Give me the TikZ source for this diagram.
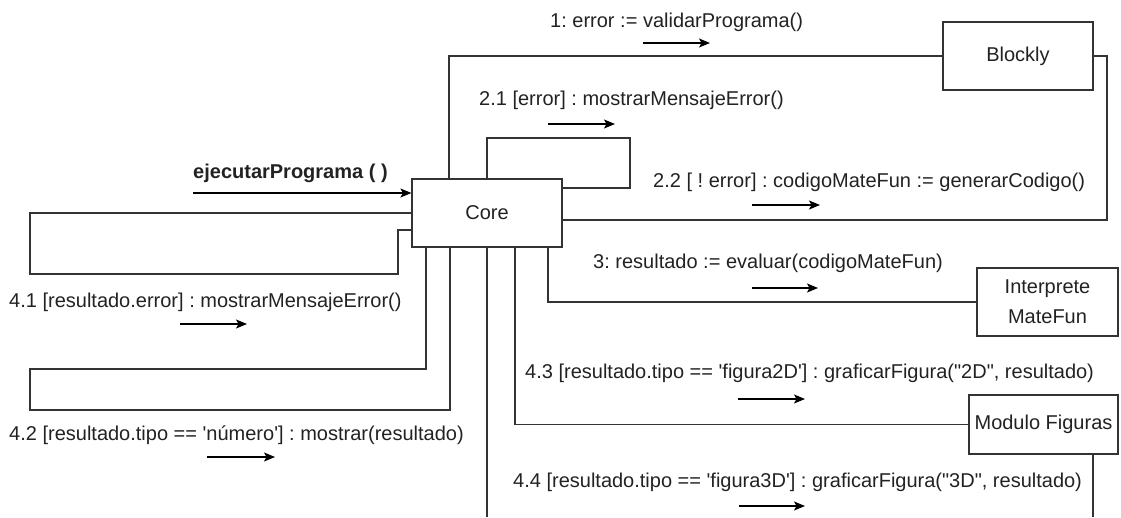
\documentclass[tikz,border=0pt]{standalone}
\usepackage{fontspec}
\setmainfont{Liberation Sans}[Ligatures=TeXOff]
\usetikzlibrary{arrows.meta,calc}
\definecolor{txt}{HTML}{222222}
\definecolor{linegray}{HTML}{333333}
\frenchspacing
\begin{document}
\begin{tikzpicture}[x=1pt,y=-1pt,
  obj/.style={draw=linegray,line width=1.2pt,fill=white,inner sep=0pt,
    font=\fontsize{20}{30}\selectfont,text=txt,align=center},
  wire/.style={draw=linegray,line width=1.2pt},
  msg/.style={font=\fontsize{20}{24}\selectfont\frenchspacing,text=txt,inner sep=0pt,anchor=west},
  dir/.style={draw=black,line width=1.2pt,-{Stealth[length=11pt,width=9pt,inset=2.5pt]}}
]
\useasboundingbox (0,0) rectangle (1121,517);

% objects
\node[obj,minimum width=150,minimum height=68] (core) at (487,213) {Core};
\node[obj,minimum width=150,minimum height=68] (blockly) at (1018,56) {Blockly};
\node[obj,minimum width=141,minimum height=68] (interp) at (1047.5,302) {Interprete\\MateFun};
\node[obj,minimum width=149,minimum height=59] (modulo) at (1043.5,424.5) {Modulo Figuras};

% links
\draw[wire] (449,0 |- core.north) -- (449,56) -- (blockly.west);
\draw[wire] (487,0 |- core.north) -- (487,138) -- (630,138) -- (630,188) -- (core.east |- 0,188);
\draw[wire] (core.east |- 0,220) -- (1107,220) -- (1107,56) -- (blockly.east);
\draw[wire] (core.west) -- (30,213) -- (30,274) -- (398,274) -- (398,230) -- (core.west |- 0,230);
\draw[wire] (426,0 |- core.south) -- (426,369) -- (30,369) -- (30,410) -- (450,410) -- (450,0 |- core.south);
\draw[wire] (548,0 |- core.south) -- (548,302) -- (interp.west);
\draw[wire] (515,0 |- core.south) -- (515,424.5) -- (modulo.west);
\draw[wire] (487,0 |- core.south) -- (487,517);
\draw[wire] (1093,0 |- modulo.south) -- (1093,517);

% entry message
\node[msg,font=\fontsize{20}{24}\selectfont\bfseries] (m0) at (193,173) {ejecutarPrograma ( )};
\coordinate (a0) at (193,193);
\draw[dir] (a0) -- (core.west |- a0);

% messages
\node[msg] (m1) at (550,22) {1: error := validarPrograma()};
\coordinate (a1s) at (643,43); \coordinate (a1e) at (710,43);
\draw[dir] (a1s) -- (a1e);

\node[msg] (m21) at (479,100) {2.1 [error] : mostrarMensajeError()};
\coordinate (a21s) at (548,124); \coordinate (a21e) at (615,124);
\draw[dir] (a21s) -- (a21e);

\node[msg] (m22) at (653,182) {2.2 [ ! error] : codigoMateFun := generarCodigo()};
\coordinate (a22s) at (752,205); \coordinate (a22e) at (820,205);
\draw[dir] (a22s) -- (a22e);

\node[msg] (m3) at (593,263) {3: resultado := evaluar(codigoMateFun)};
\coordinate (a3s) at (752,288); \coordinate (a3e) at (818,288);
\draw[dir] (a3s) -- (a3e);

\node[msg] (m41) at (9,302) {4.1 [resultado.error] : mostrarMensajeError()};
\coordinate (a41s) at (180,324); \coordinate (a41e) at (247,324);
\draw[dir] (a41s) -- (a41e);

\node[msg] (m42) at (9,435) {4.2 [resultado.tipo == 'número'] : mostrar(resultado)};
\coordinate (a42s) at (207,457); \coordinate (a42e) at (275,457);
\draw[dir] (a42s) -- (a42e);

\node[msg] (m43) at (525,373) {4.3 [resultado.tipo == 'figura2D'] : graficarFigura("2D", resultado)};
\coordinate (a43s) at (738,399); \coordinate (a43e) at (805,399);
\draw[dir] (a43s) -- (a43e);

\node[msg] (m44) at (513,482) {4.4 [resultado.tipo == 'figura3D'] : graficarFigura("3D", resultado)};
\coordinate (a44s) at (739,506); \coordinate (a44e) at (805,506);
\draw[dir] (a44s) -- (a44e);
\end{tikzpicture}
\end{document}
